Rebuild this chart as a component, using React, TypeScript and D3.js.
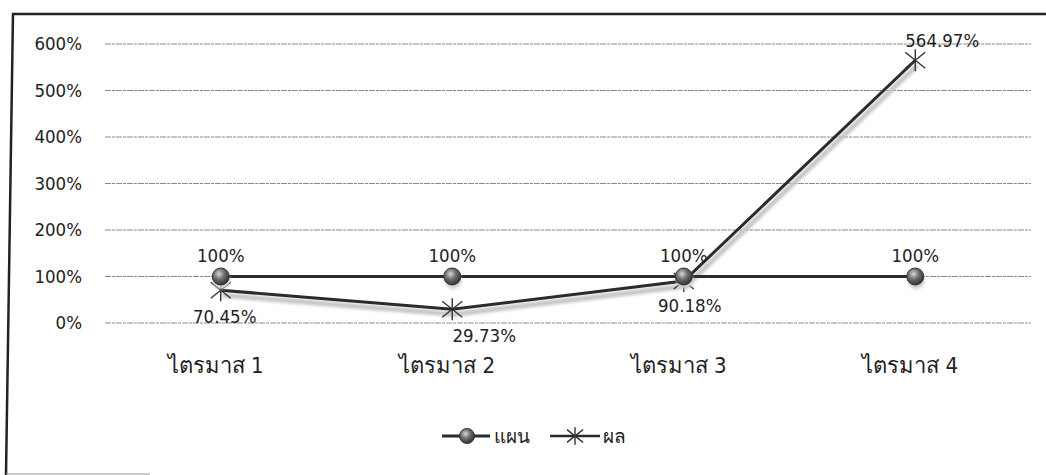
import React from "react";
import * as d3 from "d3";

const categories = ["ไตรมาส 1", "ไตรมาส 2", "ไตรมาส 3", "ไตรมาส 4"];
const planValues = [100, 100, 100, 100];
const resultValues = [70.45, 29.73, 90.18, 564.97];
const planLabels = ["100%", "100%", "100%", "100%"];
const resultLabels = ["70.45%", "29.73%", "90.18%", "564.97%"];
const yTicks = [0, 100, 200, 300, 400, 500, 600];
const seriesNames = ["แผน", "ผล"];

const W = 1046;
const H = 475;
const FONT = "'DejaVu Sans Condensed', 'DejaVu Sans', Tahoma, sans-serif";

export default function App() {
  const x = d3.scaleBand<string>().domain(categories).range([105, 1031]);
  const y = d3.scaleLinear().domain([0, 600]).range([323, 44]);
  const cx = (c: string) => (x(c) as number) + x.bandwidth() / 2;

  const line = d3
    .line<number>()
    .x((_, i) => cx(categories[i]))
    .y((d) => y(d));

  const star = (px: number, py: number, r: number, key: string, stroke = "#333") => (
    <g key={key} stroke={stroke} strokeWidth={1.4}>
      <line x1={px - r} y1={py - r * 0.8} x2={px + r} y2={py + r * 0.8} />
      <line x1={px - r} y1={py + r * 0.8} x2={px + r} y2={py - r * 0.8} />
      <line x1={px} y1={py - r * 1.1} x2={px} y2={py + r * 1.1} />
    </g>
  );

  const resultDx = [4, 32, 6, 27];
  const resultDy = [26, 26, 24, -20];

  return (
    <svg width={W} height={H} style={{ position: "absolute", left: 0, top: 0, background: "#fff" }}>
      <defs>
        <radialGradient id="ball" cx="40%" cy="35%" r="70%">
          <stop offset="0%" stopColor="#d8d8d8" />
          <stop offset="45%" stopColor="#6e6e6e" />
          <stop offset="100%" stopColor="#2a2a2a" />
        </radialGradient>
        <filter id="blur" x="-5%" y="-50%" width="110%" height="200%">
          <feGaussianBlur stdDeviation="1.5" />
        </filter>
      </defs>
      <rect x={0} y={0} width={W} height={H} fill="#fff" />
      {/* border */}
      <line x1={12} y1={14} x2={W} y2={14} stroke="#222" strokeWidth={2.5} />
      <line x1={13} y1={13} x2={6} y2={H} stroke="#222" strokeWidth={2.5} />
      <line x1={6} y1={H - 1} x2={150} y2={H - 1} stroke="#999" strokeWidth={1.2} />

      {/* gridlines and y labels */}
      {yTicks.map((t) => (
        <g key={t}>
          <line x1={105} x2={1031} y1={y(t)} y2={y(t)} stroke="#8a8a8a" strokeWidth={1} strokeDasharray="6 1 3 1" />
          <text x={82} y={y(t)} dy="0.35em" textAnchor="end" fontFamily={FONT} fontSize={18.5} fill="#222">
            {t}%
          </text>
        </g>
      ))}

      {/* category labels */}
      {categories.map((c) => (
        <text key={c} x={cx(c) - 5} y={373} textAnchor="middle" fontFamily={FONT} fontSize={22} fill="#222">
          {c}
        </text>
      ))}

      {/* shadows */}
      <path d={line(planValues) || ""} fill="none" stroke="#c4c4c4" strokeWidth={5} transform="translate(2,5)" filter="url(#blur)" />
      <path d={line(resultValues) || ""} fill="none" stroke="#c4c4c4" strokeWidth={5} transform="translate(2,5)" filter="url(#blur)" />

      {/* lines */}
      <path d={line(planValues) || ""} fill="none" stroke="#2b2b2b" strokeWidth={3} />
      <path d={line(resultValues) || ""} fill="none" stroke="#2b2b2b" strokeWidth={3} />

      {/* result markers */}
      {resultValues.map((v, i) => star(cx(categories[i]), y(v), 10, "s" + i))}

      {/* plan markers */}
      {planValues.map((v, i) => (
        <g key={"p" + i}>
          <circle cx={cx(categories[i]) + 1} cy={y(v) + 4} r={8.5} fill="#cfcfcf" filter="url(#blur)" />
          <circle cx={cx(categories[i])} cy={y(v)} r={8.5} fill="url(#ball)" stroke="#333" strokeWidth={1} />
        </g>
      ))}

      {/* data labels */}
      {planValues.map((v, i) => (
        <text key={"pl" + i} x={cx(categories[i])} y={y(v) - 21} dy="0.35em" textAnchor="middle" fontFamily={FONT} fontSize={18.5} fill="#222">
          {planLabels[i]}
        </text>
      ))}
      {resultValues.map((v, i) => (
        <text
          key={"rl" + i}
          x={cx(categories[i]) + resultDx[i]}
          y={y(v) + resultDy[i]}
          dy="0.35em"
          textAnchor="middle"
          fontFamily={FONT}
          fontSize={18.5}
          fill="#222"
        >
          {resultLabels[i]}
        </text>
      ))}

      {/* legend */}
      <g>
        <line x1={442} x2={490} y1={436} y2={436} stroke="#2b2b2b" strokeWidth={3} />
        <circle cx={467} cy={436} r={7.5} fill="url(#ball)" stroke="#333" strokeWidth={1} />
        <text x={494} y={436} dy="0.35em" fontFamily={FONT} fontSize={19} fill="#222">
          {seriesNames[0]}
        </text>
        <line x1={550} x2={600} y1={436} y2={436} stroke="#2b2b2b" strokeWidth={2.5} />
        {star(575, 436, 8, "ls")}
        <text x={603} y={436} dy="0.35em" fontFamily={FONT} fontSize={19} fill="#222">
          {seriesNames[1]}
        </text>
      </g>
    </svg>
  );
}
